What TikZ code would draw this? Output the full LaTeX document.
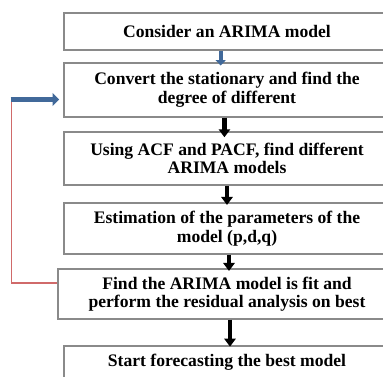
\documentclass[tikz,border=0pt]{standalone}
\usepackage{fontspec}
\setmainfont{Liberation Serif}
\usetikzlibrary{arrows.meta,calc}
\definecolor{boxgray}{HTML}{8A8A8A}
\definecolor{arrblue}{HTML}{41699A}
\definecolor{fbred}{HTML}{D06A6A}
\begin{document}
\begin{tikzpicture}[x=0.75pt,y=-0.75pt,
  stepbox/.style={draw=boxgray,line width=1.1pt,fill=white,align=center,
    font=\fontsize{13.2pt}{13.9pt}\selectfont\bfseries,inner sep=0pt,
    minimum width=244.5pt},
  blackarr/.style={line width=3.6pt,-{Triangle[width=8.5pt,length=6pt]}},
  bluearr/.style={arrblue,line width=3.75pt,-{Triangle[width=9.5pt,length=5pt]}},
  bluesmall/.style={arrblue,line width=3.2pt,-{Triangle[width=7.5pt,length=4pt]}},
]
\useasboundingbox (0,0) rectangle (383,376);
\clip (0,0) rectangle (383,376);
\fill[white] (0,0) rectangle (383,376);
% boxes (centre x = 227)
\node[stepbox,minimum height=27.75pt] (b1) at (227,31.5) {Consider an ARIMA model};
\node[stepbox,minimum height=40.5pt] (b2) at (227,90) {\rule{0pt}{1.5pt}Convert the stationary and find the\\degree of different};
\node[stepbox,minimum height=39.75pt] (b3) at (227,158.5) {Using ACF and PACF, find different\\ARIMA models};
\node[stepbox,minimum height=38.25pt] (b4) at (227,228.5) {Estimation of the parameters of the\\model (p,d,q)};
\node[stepbox,minimum height=37.5pt,minimum width=253.5pt] (b5) at (227,294) {Find the ARIMA model is fit and\\perform the residual analysis on best};
\node[stepbox,minimum height=30pt] (b6) at (227,366) {};
\node[font=\fontsize{13.2pt}{13.9pt}\selectfont\bfseries] (t6) at (227,362) {Start forecasting the best model};
% arrows
\draw[bluesmall] ([xshift=-4.75pt]b1.south) -- ([xshift=-4.75pt,yshift=-2.4pt]b2.north);
\draw[blackarr] ([xshift=-1.9pt]b2.south) -- ([xshift=-1.9pt,yshift=-4.5pt]b3.north);
\draw[blackarr] (b3.south) -- ([yshift=-2pt]b4.north);
\draw[blackarr] ([xshift=1.5pt]b4.south) -- ([xshift=1.5pt,yshift=-2pt]b5.north);
\draw[blackarr] ([xshift=2.25pt]b5.south) -- ([xshift=2.25pt,yshift=-1pt]b6.north);
% feedback loop
\coordinate (fb) at (11.5,99.5);
\draw[fbred,line width=1.1pt] (b5.west |- 0,283) -- (11.5,283) -- (fb);
\draw[bluearr] (10.5,99.5) -- ([xshift=-3pt]b2.west |- fb);
\end{tikzpicture}
\end{document}
